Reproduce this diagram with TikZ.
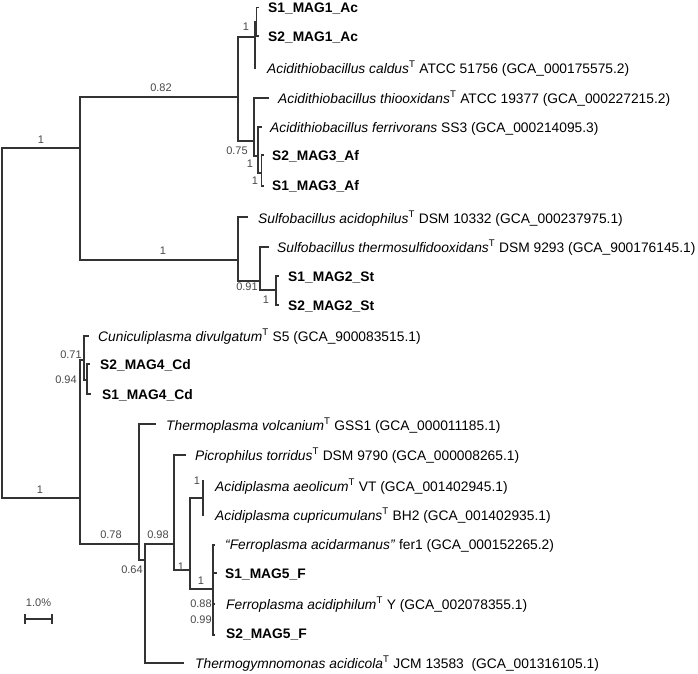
\documentclass[tikz,border=0pt]{standalone}
\usepackage{fontspec}
\setmainfont{Liberation Sans}
\begin{document}
\begin{tikzpicture}[x=1pt,y=-1pt,
  br/.style={draw=black!80, line width=1.1pt, line cap=rect},
  leaf/.style={anchor=base west, inner sep=0pt, font=\fontsize{13.8}{16}\selectfont},
  bs/.style={inner sep=0pt, font=\fontsize{11}{13}\selectfont, text=black!72}]
\useasboundingbox (0,0) rectangle (698,673);
% internal nodes
\coordinate (root) at (2,320);
\coordinate (nA) at (80,148);
\coordinate (nB) at (238,97);
\coordinate (nC) at (255,37);
\coordinate (nC2) at (256.5,22);
\coordinate (nD) at (254,141);
\coordinate (nE) at (258,156);
\coordinate (nF) at (261.5,173);
\coordinate (nG) at (238,260);
\coordinate (nH) at (260,281);
\coordinate (nI) at (276,290);
\coordinate (nJ) at (80,498);
\coordinate (nK) at (84,360);
\coordinate (nL) at (87,380);
\coordinate (nM) at (139,544);
\coordinate (nN) at (145,560);
\coordinate (nO) at (174,544);
\coordinate (nP) at (190,570);
\coordinate (nQ) at (203,498);
\coordinate (nR) at (213,589);
% leaf tips
\coordinate (t1) at (258,7.5);
\coordinate (t2) at (258,36);
\coordinate (t3) at (255.5,68);
\coordinate (t4) at (268,98);
\coordinate (t5) at (261,127);
\coordinate (t6) at (263,155);
\coordinate (t7) at (263,186);
\coordinate (t8) at (247,217);
\coordinate (t9) at (268,247);
\coordinate (t10) at (278,276);
\coordinate (t11) at (278,305);
\coordinate (t12) at (88,336);
\coordinate (t13) at (89,364);
\coordinate (t14) at (90,394);
\coordinate (t15) at (155,424);
\coordinate (t16) at (185,455);
\coordinate (t17) at (203,481);
\coordinate (t18) at (203,515);
\coordinate (t19) at (214,545);
\coordinate (t20) at (216,573);
\coordinate (t21) at (214,604);
\coordinate (t22) at (214,635);
\coordinate (t23) at (183,663);
% branches
\draw[br] (root) |- (nA);
\draw[br] (root) |- (nJ);
\draw[br] (nA) |- (nB);
\draw[br] (nA) |- (nG);
\draw[br] (nB) |- (nC);
\draw[br] (nB) |- (nD);
\draw[br] (nC) |- (nC2);
\draw[br] (nC) |- (t3);
\draw[br] (nC2) |- (t1);
\draw[br] (nC2) |- (t2);
\draw[br] (nD) |- (t4);
\draw[br] (nD) |- (nE);
\draw[br] (nE) |- (t5);
\draw[br] (nE) |- (nF);
\draw[br] (nF) |- (t6);
\draw[br] (nF) |- (t7);
\draw[br] (nG) |- (t8);
\draw[br] (nG) |- (nH);
\draw[br] (nH) |- (t9);
\draw[br] (nH) |- (nI);
\draw[br] (nI) |- (t10);
\draw[br] (nI) |- (t11);
\draw[br] (nJ) |- (nK);
\draw[br] (nJ) |- (nM);
\draw[br] (nK) |- (t12);
\draw[br] (nK) |- (nL);
\draw[br] (nL) |- (t13);
\draw[br] (nL) |- (t14);
\draw[br] (nM) |- (t15);
\draw[br] (nM) |- (nN);
\draw[br] (nN) |- (nO);
\draw[br] (nN) |- (t23);
\draw[br] (nO) |- (t16);
\draw[br] (nO) |- (nP);
\draw[br] (nP) |- (nQ);
\draw[br] (nP) |- (nR);
\draw[br] (nQ) |- (t17);
\draw[br] (nQ) |- (t18);
\draw[br] (nR) |- (t19);
\draw[br] (nR) |- (t20);
\draw[br] (nR) |- (t21);
\draw[br] (nR) |- (t22);
% leaf labels
\node[leaf] (l1) at (268,12.5) {\textbf{S1\_MAG1\_Ac}};
\node[leaf] (l2) at (268,41) {\textbf{S2\_MAG1\_Ac}};
\node[leaf] (l3) at (267,73) {\textit{Acidithiobacillus caldus}\textsuperscript{T} ATCC 51756 (GCA\_000175575.2)};
\node[leaf] (l4) at (278,103) {\textit{Acidithiobacillus thiooxidans}\textsuperscript{T} ATCC 19377 (GCA\_000227215.2)};
\node[leaf] (l5) at (270,132) {\textit{Acidithiobacillus ferrivorans} SS3 (GCA\_000214095.3)};
\node[leaf] (l6) at (272,160) {\textbf{S2\_MAG3\_Af}};
\node[leaf] (l7) at (272,190) {\textbf{S1\_MAG3\_Af}};
\node[leaf] (l8) at (258,223) {\textit{Sulfobacillus acidophilus}\textsuperscript{T} DSM 10332 (GCA\_000237975.1)};
\node[leaf] (l9) at (277,252) {\textit{Sulfobacillus thermosulfidooxidans}\textsuperscript{T} DSM 9293 (GCA\_900176145.1)};
\node[leaf] (l10) at (288,281) {\textbf{S1\_MAG2\_St}};
\node[leaf] (l11) at (288,310) {\textbf{S2\_MAG2\_St}};
\node[leaf] (l12) at (98,341) {\textit{Cuniculiplasma divulgatum}\textsuperscript{T} S5 (GCA\_900083515.1)};
\node[leaf] (l13) at (100,369) {\textbf{S2\_MAG4\_Cd}};
\node[leaf] (l14) at (102,399) {\textbf{S1\_MAG4\_Cd}};
\node[leaf] (l15) at (166,430) {\textit{Thermoplasma volcanium}\textsuperscript{T} GSS1 (GCA\_000011185.1)};
\node[leaf] (l16) at (195,460) {\textit{Picrophilus torridus}\textsuperscript{T} DSM 9790 (GCA\_000008265.1)};
\node[leaf] (l17) at (215,491) {\textit{Acidiplasma aeolicum}\textsuperscript{T} VT (GCA\_001402945.1)};
\node[leaf] (l18) at (215,520) {\textit{Acidiplasma cupricumulans}\textsuperscript{T} BH2 (GCA\_001402935.1)};
\node[leaf] (l19) at (225,549) {\textit{“Ferroplasma acidarmanus”} fer1 (GCA\_000152265.2)};
\node[leaf] (l20) at (225,578) {\textbf{S1\_MAG5\_F}};
\node[leaf] (l21) at (226,609) {\textit{Ferroplasma acidiphilum}\textsuperscript{T} Y (GCA\_002078355.1)};
\node[leaf] (l22) at (226,638) {\textbf{S2\_MAG5\_F}};
\node[leaf] (l23) at (195,668) {\textit{Thermogymnomonas acidicola}\textsuperscript{T} JCM 13583\ \ (GCA\_001316105.1)};
% support values
\node[bs] (s1) at (41,140) {1};
\node[bs] (s2) at (161,88) {0.82};
\node[bs] (s3) at (246,27) {1};
\node[bs] (s4) at (237,151) {0.75};
\node[bs] (s5) at (250,164) {1};
\node[bs] (s6) at (255,181) {1};
\node[bs] (s7) at (163,251) {1};
\node[bs] (s8) at (247,287) {0.91};
\node[bs] (s9) at (266,300) {1};
\node[bs] (s10) at (71,355) {0.71};
\node[bs] (s11) at (66,380) {0.94};
\node[bs] (s12) at (40,490) {1};
\node[bs] (s13) at (111,535) {0.78};
\node[bs] (s14) at (132,570) {0.64};
\node[bs] (s15) at (158,535) {0.98};
\node[bs] (s16) at (181,567) {1};
\node[bs] (s17) at (197,481) {1};
\node[bs] (s18) at (201,581) {1};
\node[bs] (s19) at (201,604) {0.88};
\node[bs] (s20) at (201,620) {0.99};
% scale bar
\coordinate (sbL) at (25,619);
\coordinate (sbR) at (52,619);
\draw[br] (sbL) -- (sbR);
\draw[br] ([yshift=-4pt]sbL) -- ([yshift=4pt]sbL);
\draw[br] ([yshift=-4pt]sbR) -- ([yshift=4pt]sbR);
\node[bs] (sbt) at (38.5,603) {1.0\%};
\end{tikzpicture}
\end{document}
